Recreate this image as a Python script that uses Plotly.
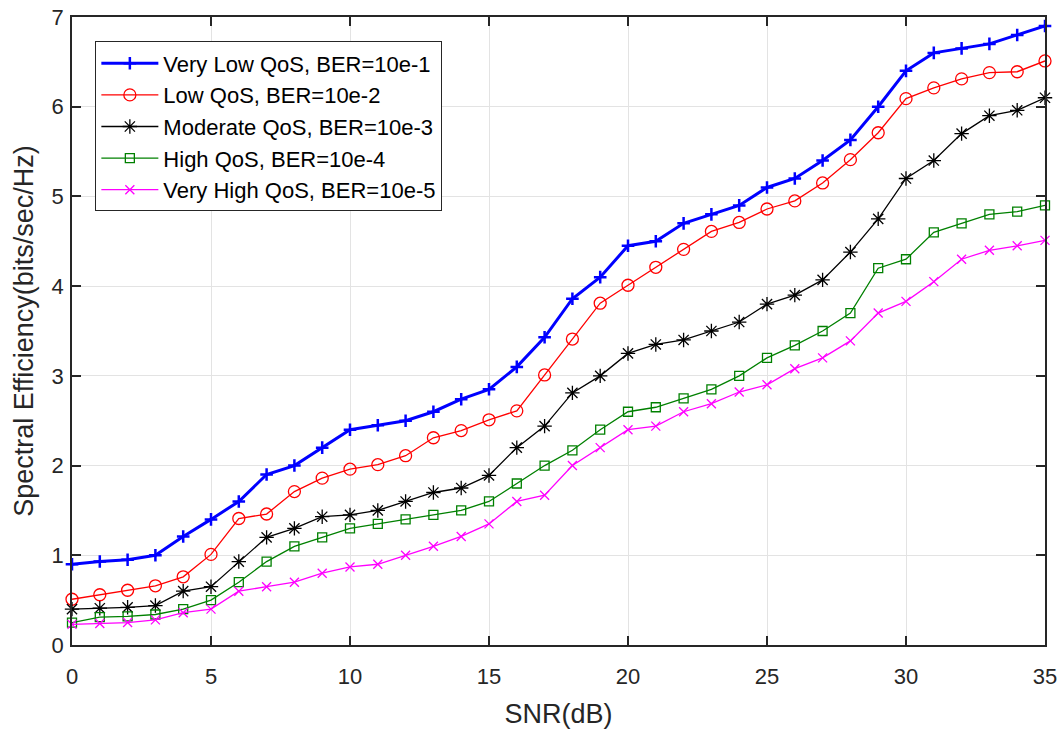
import plotly.graph_objects as go

snr = list(range(0, 36))

very_low = [0.90, 0.93, 0.95, 1.00, 1.21, 1.40, 1.60, 1.90, 2.00, 2.20, 2.40, 2.45, 2.50, 2.60, 2.74, 2.85, 3.10, 3.43,
            3.86, 4.10, 4.45, 4.50, 4.70, 4.80, 4.90, 5.10, 5.20, 5.40, 5.63, 6.00, 6.40, 6.60, 6.65, 6.70, 6.80, 6.90]
low = [0.51, 0.56, 0.61, 0.66, 0.76, 1.01, 1.41, 1.46, 1.71, 1.86, 1.96, 2.01, 2.11, 2.31, 2.39, 2.51, 2.61, 3.01,
       3.41, 3.81, 4.01, 4.21, 4.41, 4.61, 4.71, 4.86, 4.95, 5.15, 5.41, 5.71, 6.09, 6.21, 6.31, 6.38, 6.39, 6.51]
moderate = [0.40, 0.41, 0.42, 0.44, 0.60, 0.65, 0.93, 1.20, 1.30, 1.43, 1.45, 1.50, 1.60, 1.70, 1.75, 1.89, 2.20, 2.44,
            2.81, 3.00, 3.25, 3.35, 3.40, 3.50, 3.60, 3.80, 3.90, 4.07, 4.38, 4.75, 5.20, 5.40, 5.70, 5.90, 5.96, 6.10]
high = [0.25, 0.31, 0.32, 0.34, 0.40, 0.50, 0.70, 0.93, 1.10, 1.20, 1.30, 1.35, 1.40, 1.45, 1.50, 1.60, 1.80, 2.00,
        2.17, 2.40, 2.60, 2.65, 2.75, 2.85, 3.00, 3.20, 3.34, 3.50, 3.70, 4.20, 4.30, 4.60, 4.70, 4.80, 4.83, 4.90]
very_high = [0.23, 0.24, 0.25, 0.28, 0.36, 0.40, 0.60, 0.65, 0.70, 0.80, 0.87, 0.90, 1.00, 1.10, 1.21, 1.35, 1.60, 1.67,
             2.00, 2.20, 2.40, 2.44, 2.60, 2.69, 2.82, 2.90, 3.08, 3.20, 3.39, 3.70, 3.83, 4.05, 4.30, 4.40, 4.45, 4.51]

names = ["Very Low QoS, BER=10e-1", "Low QoS, BER=10e-2", "Moderate QoS, BER=10e-3",
         "High QoS, BER=10e-4", "Very High QoS, BER=10e-5"]
x_ticks = [0, 5, 10, 15, 20, 25, 30, 35]
y_ticks = [0, 1, 2, 3, 4, 5, 6, 7]

series = [very_low, low, moderate, high, very_high]
styles = [
    dict(color="#0000FF", lw=3, symbol="cross-thin", size=9, mlw=2.5),
    dict(color="#FF0000", lw=1.3, symbol="circle-open", size=12, mlw=1.3),
    dict(color="#000000", lw=1.3, symbol="asterisk-open", size=12, mlw=1.3),
    dict(color="#008000", lw=1.3, symbol="square-open", size=9, mlw=1.3),
    dict(color="#FF00FF", lw=1.3, symbol="x-thin", size=9, mlw=1.3),
]

font = "Liberation Sans, Arial, Helvetica, sans-serif"
fig = go.Figure()
for ys, nm, st in zip(series, names, styles):
    fig.add_trace(go.Scatter(
        x=snr, y=ys, name=nm, mode="lines+markers", cliponaxis=False,
        line=dict(color=st["color"], width=st["lw"]),
        marker=dict(symbol=st["symbol"], size=st["size"], color=st["color"],
                    line=dict(color=st["color"], width=st["mlw"])),
    ))

axis_common = dict(
    showline=True, linecolor="#262626", linewidth=1.8, mirror="ticks",
    ticks="inside", ticklen=9, tickwidth=1.5, tickcolor="#262626",
    showgrid=True, gridcolor="#e3e3e3", gridwidth=1, zeroline=False,
    tickfont=dict(family=font, size=22, color="#262626"),
    automargin=False,
)

fig.update_layout(
    width=1063, height=729,
    margin=dict(l=72, r=18, t=17, b=84),
    paper_bgcolor="white", plot_bgcolor="white",
    font=dict(family=font, color="#262626"),
    xaxis=dict(range=[0, 35], tickvals=x_ticks, ticktext=[str(v) for v in x_ticks],
               ticklabelstandoff=11,
               title=dict(text="SNR(dB)", font=dict(family=font, size=27, color="#262626"), standoff=18),
               **axis_common),
    yaxis=dict(range=[0, 7], tickvals=y_ticks, ticktext=[str(v) for v in y_ticks],
               ticklabelstandoff=2,
               title=dict(text="Spectral Efficiency(bits/sec/Hz)", font=dict(family=font, size=27, color="#262626"),
                          standoff=10),
               **axis_common),
    legend=dict(x=0.024, y=0.961, xanchor="left", yanchor="top",
                bgcolor="white", bordercolor="#262626", borderwidth=1,
                font=dict(family=font, size=22, color="#000000"),
                itemwidth=57, tracegroupgap=0),
    showlegend=True,
)

fig.write_html("out.html")
